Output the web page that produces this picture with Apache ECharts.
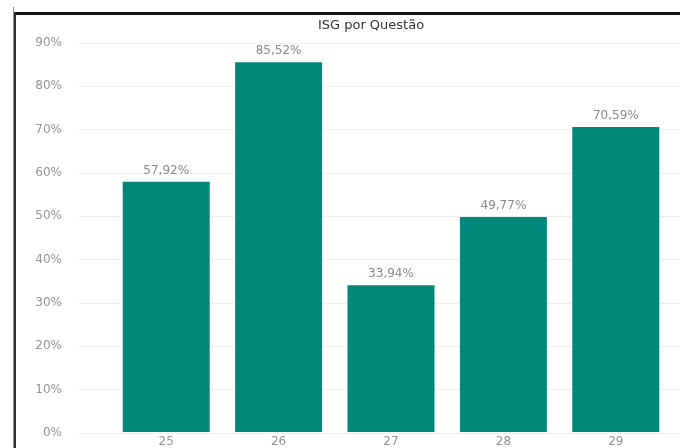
<!DOCTYPE html>
<html>
<head>
<meta charset="utf-8">
<script src="https://cdn.jsdelivr.net/npm/echarts@6/dist/echarts.min.js"></script>
<style>
  html, body { margin: 0; padding: 0; background: #fff; }
  #chart { width: 680px; height: 448px; }
</style>
</head>
<body>
<div id="chart"></div>
<script>
  // questões e ISG (%)
  const questoes = ['25', '26', '27', '28', '29'];
  const isg = [57.92, 85.52, 33.94, 49.77, 70.59];
  const yTicks = [0, 10, 20, 30, 40, 50, 60, 70, 80, 90];

  const FONT = 'DejaVu Sans, Verdana, sans-serif';
  const LABEL_GRAY = '#949494';

  const fmtPct = v => v.toFixed(2).replace('.', ',') + '%';

  const chart = echarts.init(document.getElementById('chart'));
  chart.setOption({
    animation: false,
    title: {
      text: 'ISG por Questão',
      left: 366,
      top: 14,
      textAlign: 'center',
      textStyle: { fontFamily: FONT, fontSize: 13, fontWeight: 'normal', color: '#333' }
    },
    graphic: [
      // moldura do visual
      { type: 'rect', shape: { x: 13, y: 12, width: 667, height: 3 }, style: { fill: '#111' } },
      { type: 'rect', shape: { x: 13, y: 7, width: 1, height: 441 }, style: { fill: '#29b6e6' } },
      { type: 'rect', shape: { x: 14, y: 12, width: 2, height: 436 }, style: { fill: '#2b2f33' } }
    ],
    grid: [
      // grade com linhas e rótulos do eixo y
      { left: 78, right: 0, top: 43, bottom: 15, containLabel: false },
      // grade das barras
      { left: 110, right: 8, top: 43, bottom: 15, containLabel: false }
    ],
    xAxis: [
      { gridIndex: 0, type: 'category', data: questoes, show: false },
      {
        gridIndex: 1,
        type: 'category',
        data: questoes,
        axisLine: { show: false },
        axisTick: { show: false },
        axisLabel: { color: LABEL_GRAY, fontFamily: FONT, fontSize: 12, margin: 4 }
      }
    ],
    yAxis: [
      {
        gridIndex: 0,
        type: 'value',
        min: yTicks[0],
        max: yTicks[yTicks.length - 1],
        interval: 10,
        axisLine: { show: false },
        axisTick: { show: false },
        splitLine: { lineStyle: { color: '#efefef', width: 1 } },
        axisLabel: {
          color: LABEL_GRAY, fontFamily: FONT, fontSize: 12, margin: 16,
          formatter: v => v + '%'
        }
      },
      {
        gridIndex: 1,
        type: 'value',
        min: yTicks[0],
        max: yTicks[yTicks.length - 1],
        interval: 10,
        show: false
      }
    ],
    series: [{
      type: 'bar',
      xAxisIndex: 1,
      yAxisIndex: 1,
      data: isg,
      barWidth: 87,
      itemStyle: { color: '#00897b' },
      label: {
        show: true,
        position: 'top',
        distance: 5,
        color: '#8a8a8a',
        fontFamily: FONT,
        fontSize: 12,
        formatter: p => fmtPct(p.value)
      }
    }]
  });
</script>
</body>
</html>
